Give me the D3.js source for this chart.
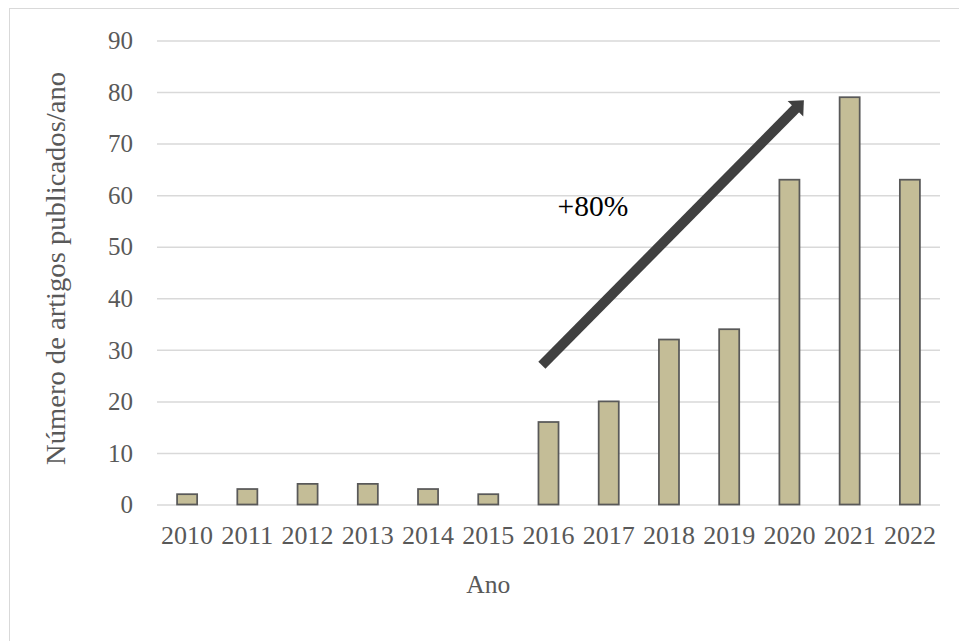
<!DOCTYPE html>
<html>
<head>
<meta charset="utf-8">
<script src="https://cdn.jsdelivr.net/npm/d3@7"></script>
<style>
  html, body { margin: 0; padding: 0; background: #fff; }
  svg { display: block; }
</style>
</head>
<body>
<svg id="chart" width="959" height="641"></svg>
<script>
const years = ["2010","2011","2012","2013","2014","2015","2016","2017","2018","2019","2020","2021","2022"];
const articles = [2, 3, 4, 4, 3, 2, 16, 20, 32, 34, 63, 79, 63];
const yTicks = [0, 10, 20, 30, 40, 50, 60, 70, 80, 90];
const yTitle = "Número de artigos publicados/ano";
const xTitle = "Ano";
const annotationText = "+80%";
// arrow in data units: [category position (0..13), value]
const arrowFrom = [6.39, 27];
const arrowTo = [10.74, 78.4];

const svg = d3.select("#chart");
const W = 959, H = 641;
const margin = { left: 157, right: 19, top: 40.5, bottom: 136.5 };
const plotW = W - margin.left - margin.right;
const plotH = H - margin.top - margin.bottom;
const font = "'Liberation Serif', serif";
const fs = 25;

// outer frame (only top and left visible)
svg.append("rect")
  .attr("x", 9.5).attr("y", 8.5)
  .attr("width", 980).attr("height", 660)
  .attr("fill", "none").attr("stroke", "#d9d9d9").attr("stroke-width", 1);

const g = svg.append("g").attr("transform", `translate(${margin.left},${margin.top})`);

const x = d3.scaleBand().domain(years).range([0, plotW]).paddingInner(0.667).paddingOuter(0.3335);
const xl = d3.scaleLinear().domain([0, years.length]).range([0, plotW]);
const y = d3.scaleLinear().domain([0, 90]).range([plotH, 0]);

// gridlines
const yAxis = d3.axisLeft(y).tickValues(yTicks).tickSize(-plotW).tickPadding(24).tickFormat(d3.format("d"));
const ya = g.append("g").call(yAxis);
ya.select(".domain").remove();
ya.selectAll(".tick line").attr("stroke", "#d9d9d9").attr("stroke-width", 1.5);
ya.selectAll(".tick text")
  .attr("fill", "#595959").attr("font-family", font).attr("font-size", fs)
  .attr("dy", "0.33em");

// x axis labels
const xAxis = d3.axisBottom(x).tickSize(0).tickPadding(22);
const xa = g.append("g").attr("transform", `translate(0,${plotH})`).call(xAxis);
xa.select(".domain").remove();
xa.selectAll(".tick text")
  .attr("fill", "#595959").attr("font-family", font).attr("font-size", fs)
  .attr("textLength", 52).attr("lengthAdjust", "spacingAndGlyphs");

// bars
g.selectAll("rect.bar").data(articles).join("rect")
  .attr("class", "bar")
  .attr("x", (d, i) => x(years[i]))
  .attr("y", d => y(d))
  .attr("width", x.bandwidth())
  .attr("height", d => plotH - y(d))
  .attr("fill", "#c4bd97")
  .attr("stroke", "#595959")
  .attr("stroke-width", 1.75);

// arrow
const x0 = xl(arrowFrom[0]), y0 = y(arrowFrom[1]);
const x1 = xl(arrowTo[0]), y1 = y(arrowTo[1]);
const ang = Math.atan2(y1 - y0, x1 - x0);
const headLen = 12, headHalf = 11;
const bx = x1 - headLen * Math.cos(ang), by = y1 - headLen * Math.sin(ang);
g.append("line")
  .attr("x1", x0).attr("y1", y0).attr("x2", bx + Math.cos(ang)).attr("y2", by + Math.sin(ang))
  .attr("stroke", "#404040").attr("stroke-width", 10);
const px = -Math.sin(ang), py = Math.cos(ang);
g.append("path")
  .attr("d", d3.line()([[x1, y1], [bx + px * headHalf, by + py * headHalf], [bx - px * headHalf, by - py * headHalf]]) + "Z")
  .attr("fill", "#404040");

// annotation text
g.append("text")
  .attr("x", xl(6.65)).attr("y", y(56.0))
  .attr("font-family", font).attr("font-size", 29.5).attr("fill", "#000")
  .text(annotationText);

// axis titles
svg.append("text")
  .attr("x", margin.left + xl(5.5)).attr("y", 593)
  .attr("text-anchor", "middle")
  .attr("font-family", font).attr("font-size", fs).attr("fill", "#595959")
  .attr("textLength", 44).attr("lengthAdjust", "spacingAndGlyphs")
  .text(xTitle);

svg.append("text")
  .attr("transform", `translate(65,268.5) rotate(-90)`)
  .attr("text-anchor", "middle")
  .attr("font-family", font).attr("font-size", 26.5).attr("fill", "#595959")
  .attr("textLength", 393).attr("lengthAdjust", "spacingAndGlyphs")
  .text(yTitle);
</script>
</body>
</html>
